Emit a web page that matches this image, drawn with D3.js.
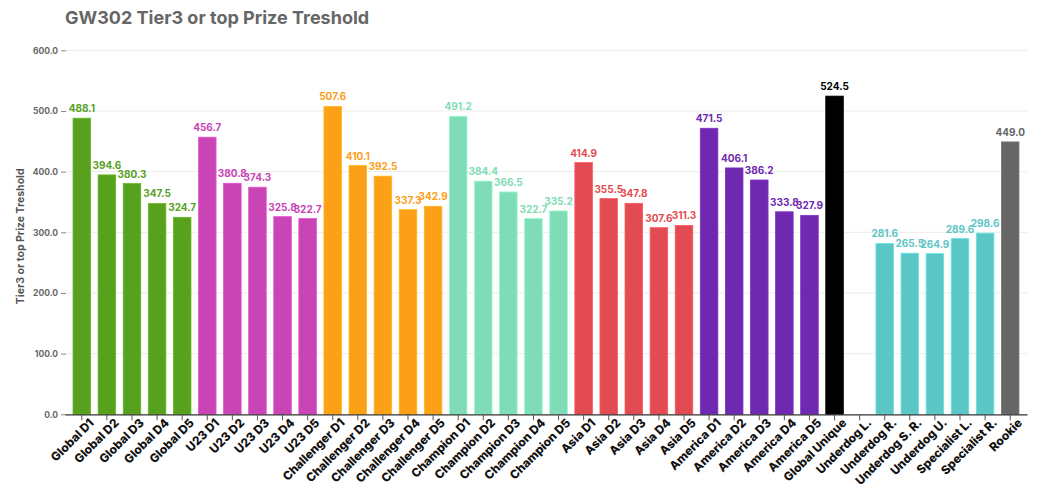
<!DOCTYPE html>
<html>
<head>
<meta charset="utf-8">
<script src="https://cdn.jsdelivr.net/npm/d3@7"></script>
<style>
  html, body { margin: 0; padding: 0; background: #fff; }
  svg { display: block; }
</style>
</head>
<body>
<div id="chart"></div>
<script>
const categories = ["Global D1","Global D2","Global D3","Global D4","Global D5",
  "U23 D1","U23 D2","U23 D3","U23 D4","U23 D5",
  "Challenger D1","Challenger D2","Challenger D3","Challenger D4","Challenger D5",
  "Champion D1","Champion D2","Champion D3","Champion D4","Champion D5",
  "Asia D1","Asia D2","Asia D3","Asia D4","Asia D5",
  "America D1","America D2","America D3","America D4","America D5",
  "Global Unique","Underdog L.","Underdog R.","Underdog S. R.","Underdog U.",
  "Specialist L.","Specialist R.","Rookie"];
const values = [488.1,394.6,380.3,347.5,324.7,
  456.7,380.8,374.3,325.8,322.7,
  507.6,410.1,392.5,337.3,342.9,
  491.2,384.4,366.5,322.7,335.2,
  414.9,355.5,347.8,307.6,311.3,
  471.5,406.1,386.2,333.8,327.9,
  524.5,null,281.6,265.5,264.9,
  289.6,298.6,449.0];
const groups = ["Global","U23","Challenger","Champion","Asia","America","Global Unique","Underdog/Specialist","Rookie"];
const groupOf = [0,0,0,0,0,1,1,1,1,1,2,2,2,2,2,3,3,3,3,3,4,4,4,4,4,5,5,5,5,5,6,7,7,7,7,7,7,8];
const groupColors = ["#58a11f","#c945b5","#fba017","#7fdcb6","#e34b52","#6f29b0","#000000","#5bc6c6","#666666"];
const yTicks = [0,100,200,300,400,500,600];
const title = "GW302 Tier3 or top Prize Treshold";
const yTitle = "Tier3 or top Prize Treshold";

const W = 1043, H = 489;
const FONT = "Inter, Lato, sans-serif";
const svg = d3.select("#chart").append("svg").attr("width", W).attr("height", H);

const x = d3.scaleBand().domain(categories).range([65, 1027]).paddingInner(0.3).paddingOuter(0.32);
const y = d3.scaleLinear().domain([0, 600]).range([414.3, 50.3]);
const color = i => groupColors[groupOf[i]];

// gridlines
svg.append("g").selectAll("line").data(yTicks.filter(d => d > 0)).join("line")
  .attr("x1", 66).attr("x2", 1027)
  .attr("y1", d => y(d)).attr("y2", d => y(d))
  .attr("stroke", "#ececec").attr("stroke-width", 1);

// title
svg.append("text").attr("x", 65).attr("y", 24)
  .attr("font-family", FONT).attr("font-weight", 700)
  .attr("font-size", 18).attr("fill", "#666").text(title);

// y axis title
svg.append("text")
  .attr("transform", `translate(24,${(y(0)+y(600))/2 + 4}) rotate(-90)`)
  .attr("text-anchor", "middle")
  .attr("font-family", FONT).attr("font-weight", 700)
  .attr("font-size", 10.5).attr("fill", "#555").text(yTitle);

// y axis
const yAxis = svg.append("g").attr("transform", "translate(66,0)")
  .call(d3.axisLeft(y).tickValues(yTicks).tickFormat(d3.format(".1f")).tickSize(5).tickPadding(3));
yAxis.select(".domain").remove();
yAxis.selectAll(".tick line").attr("stroke", "#888");
yAxis.selectAll("text").attr("font-family", FONT).attr("font-weight", 700)
  .attr("font-size", 8.5).attr("fill", "#666");

// bars
const data = categories.map((c, i) => ({c, v: values[i], i})).filter(d => d.v !== null);
svg.append("g").selectAll("rect").data(data).join("rect")
  .attr("x", d => x(d.c)).attr("width", x.bandwidth())
  .attr("y", d => y(d.v)).attr("height", d => y(0) - y(d.v))
  .attr("fill", d => color(d.i))
  .attr("stroke", d => d3.color(color(d.i)).brighter(0.4))
  .attr("stroke-width", 0.8);

// value labels
svg.append("g").selectAll("text").data(data).join("text")
  .attr("x", d => x(d.c) + x.bandwidth()/2).attr("y", d => y(d.v) - 6)
  .attr("text-anchor", "middle")
  .attr("font-family", FONT).attr("font-weight", 700)
  .attr("font-size", 10).attr("fill", d => color(d.i))
  .text(d => d3.format(".1f")(d.v));

// x axis
const xAxis = svg.append("g").attr("transform", `translate(0,${y(0)})`)
  .call(d3.axisBottom(x).tickSize(6).tickSizeOuter(0));
xAxis.select(".domain").attr("stroke", "#333").attr("stroke-width", 1.2);
xAxis.selectAll(".tick line").attr("stroke", "#555");
xAxis.selectAll("text")
  .attr("font-family", FONT).attr("font-weight", 800)
  .attr("font-size", 12).attr("fill", "#111")
  .attr("text-anchor", "end")
  .attr("dx", "0.2em").attr("dy", "0.55em")
  .attr("transform", "rotate(-45)");
</script>
</body>
</html>
